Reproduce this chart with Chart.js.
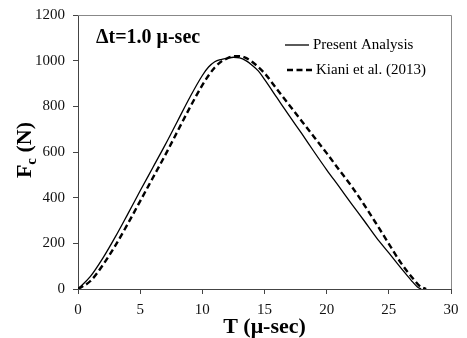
<!DOCTYPE html>
<html><head><meta charset="utf-8">
<script src="https://cdn.jsdelivr.net/npm/chart.js@4.4.1/dist/chart.umd.min.js"></script>
<style>html,body{margin:0;padding:0;background:#fff}#wrap{width:467px;height:338px}</style>
</head><body><div id="wrap"><canvas id="c" width="467" height="338"></canvas></div>
<script>
const presentT = [0,1,2,3,4,5,6,7,8,9,10,10.5,11,11.5,12,12.5,13,13.5,14,14.5,15,16,17,18,19,20,21,22,23,24,25,26,26.8,27.3,27.6];
const presentF = [0,55,135,228,328,430,530,630,735,840,935,972,995,1005,1010,1015,1012,1000,980,955,918,838,758,680,600,522,448,373,300,225,158,90,38,9,0];
const kianiT = [0,1,2,3,4,5,6,7,8,9,10,10.5,11,11.5,12,12.4,13,13.5,14,15,16,17,18,19,20,21,22,23,24,25,26,27,27.5,28];
const kianiF = [0,35,105,190,285,385,485,585,690,795,893,935,970,995,1010,1018,1020,1012,995,945,875,805,735,665,595,522,450,370,285,198,112,42,12,0];
const xTicks = [0,5,10,15,20,25,30];
const yTicks = [0,200,400,600,800,1000,1200];
const labelPresent = "Present Analysis";
const labelKiani = "Kiani et al. (2013)";
const annotation = "Δt=1.0 μ-sec";
const xTitle = "T (μ-sec)";

const toPts = (xs, ys) => xs.map((x, i) => ({x, y: ys[i]}));
const SERIF = "'Liberation Serif','Times New Roman',serif";

const overlay = {
  id: 'overlay',
  afterDraw(chart) {
    const {ctx, chartArea: a} = chart;
    ctx.save();
    ctx.strokeStyle = '#888';
    ctx.lineWidth = 1;
    ctx.beginPath();
    ctx.moveTo(a.left, a.top + 0.5); ctx.lineTo(a.right + 0.5, a.top + 0.5); ctx.lineTo(a.right + 0.5, a.bottom);
    ctx.stroke();
    ctx.fillStyle = '#000';
    ctx.font = "bold 20px " + SERIF;
    ctx.textBaseline = 'middle';
    ctx.textAlign = 'left';
    ctx.fillText(annotation, 96, 38);
    ctx.font = "15px " + SERIF;
    ctx.strokeStyle = '#000';
    ctx.lineWidth = 1.3;
    ctx.beginPath(); ctx.moveTo(285, 45); ctx.lineTo(309, 45); ctx.stroke();
    ctx.fillText(labelPresent, 313, 45);
    ctx.lineWidth = 2.4;
    ctx.setLineDash([6, 3.5]);
    ctx.beginPath(); ctx.moveTo(287, 70); ctx.lineTo(312, 70); ctx.stroke();
    ctx.setLineDash([]);
    ctx.fillText(labelKiani, 316, 70);
    // y title with subscript
    ctx.translate(31, 150);
    ctx.rotate(-Math.PI / 2);
    ctx.textBaseline = 'alphabetic';
    const big = "bold 22px " + SERIF, small = "bold 15px " + SERIF;
    ctx.font = big; const w1 = ctx.measureText('F').width;
    ctx.font = small; const w2 = ctx.measureText('c').width;
    ctx.font = big; const w3 = ctx.measureText(' (N)').width;
    const x0 = -(w1 + w2 + w3) / 2;
    ctx.fillText('F', x0, 0);
    ctx.font = small; ctx.fillText('c', x0 + w1, 5);
    ctx.font = big; ctx.fillText(' (N)', x0 + w1 + w2, 0);
    ctx.restore();
  }
};

new Chart(document.getElementById('c'), {
  type: 'line',
  data: {
    datasets: [
      {label: labelPresent, data: toPts(presentT, presentF), borderColor: '#000', borderWidth: 1.3, pointRadius: 0, cubicInterpolationMode: 'monotone', fill: false},
      {label: labelKiani, data: toPts(kianiT, kianiF), borderColor: '#000', borderWidth: 2.4, borderDash: [6, 3.5], pointRadius: 0, cubicInterpolationMode: 'monotone', fill: false}
    ]
  },
  options: {
    responsive: false, animation: false, devicePixelRatio: 1,
    layout: {padding: {top: 15, right: 16, left: 0, bottom: 0}},
    plugins: {legend: {display: false}, tooltip: {enabled: false}},
    scales: {
      x: {
        type: 'linear', min: 0, max: 30,
        afterBuildTicks: s => { s.ticks = xTicks.map(v => ({value: v})); },
        afterFit: s => { s.height = 49; s.paddingLeft = 0; s.paddingRight = 0; },
        grid: {display: true, drawOnChartArea: false, drawTicks: true, tickLength: 5, color: '#444'},
        border: {display: true, color: '#444', width: 1},
        ticks: {color: '#111', font: {family: SERIF, size: 15}, padding: 7, maxRotation: 0, callback: v => String(v)},
        title: {display: true, text: xTitle, color: '#000', font: {family: SERIF, size: 22, weight: 'bold', lineHeight: 1}, padding: {top: 0, bottom: 0}}
      },
      y: {
        type: 'linear', min: 0, max: 1200,
        afterBuildTicks: s => { s.ticks = yTicks.map(v => ({value: v})); },
        afterFit: s => { s.width = 78; s.paddingTop = 0; s.paddingBottom = 0; },
        grid: {display: true, drawOnChartArea: false, drawTicks: true, tickLength: 5, color: '#444'},
        border: {display: true, color: '#444', width: 1},
        ticks: {color: '#111', font: {family: SERIF, size: 15}, padding: 8, callback: v => String(v)}
      }
    }
  },
  plugins: [overlay]
});
</script></body></html>
